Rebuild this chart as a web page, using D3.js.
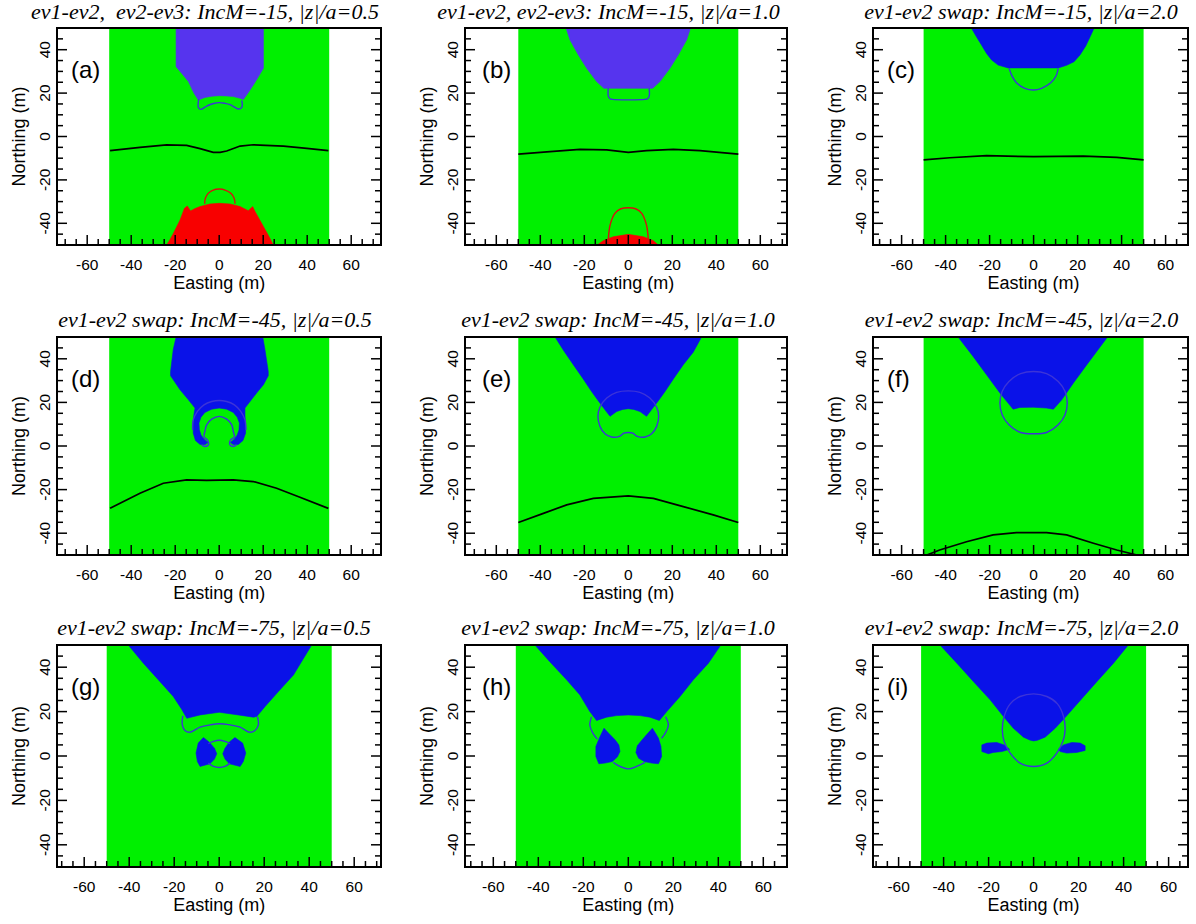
<!DOCTYPE html>
<html>
<head>
<meta charset="utf-8">
<script src="https://cdn.jsdelivr.net/npm/d3@7"></script>
<style>
  body { margin: 0; background: #fff; }
  svg { display: block; }
</style>
</head>
<body>
<svg id="fig" width="1196" height="924"></svg>
<script>
// ---------- text ----------
const titles = [
  "ev1-ev2,  ev2-ev3: IncM=-15, |z|/a=0.5",
  "ev1-ev2, ev2-ev3: IncM=-15, |z|/a=1.0",
  "ev1-ev2 swap: IncM=-15, |z|/a=2.0",
  "ev1-ev2 swap: IncM=-45, |z|/a=0.5",
  "ev1-ev2 swap: IncM=-45, |z|/a=1.0",
  "ev1-ev2 swap: IncM=-45, |z|/a=2.0",
  "ev1-ev2 swap: IncM=-75, |z|/a=0.5",
  "ev1-ev2 swap: IncM=-75, |z|/a=1.0",
  "ev1-ev2 swap: IncM=-75, |z|/a=2.0"
];
const panelLabels = ["(a)", "(b)", "(c)", "(d)", "(e)", "(f)", "(g)", "(h)", "(i)"];
const xTickLabels = [-60, -40, -20, 0, 20, 40, 60];
const yTickLabels = [-40, -20, 0, 20, 40];
const gridExtent = [-50, 50];   // survey grid, Easting and Northing (m)

// ---------- (a) IncM=-15, |z|/a=0.5 ----------
const aBlue = [[-19.6,50],[20.1,50],[20.1,31.4],[17.8,27.5],[15.5,23.7],[13.2,20.2],[11.0,17.1],[9.5,17.6],[6.4,18.4],[3.2,18.7],[0,18.8],[-3.2,18.6],[-6.5,18.0],[-9.5,16.8],[-11.5,20.0],[-14.0,25.3],[-16.8,28.8],[-19.6,32.2]];
const aBlueLine = [[-9.3,17.2],[-9.6,14.8],[-9.5,13.4],[-8.3,12.5],[-6.5,13.5],[-4.9,14.4],[-2.5,15.2],[0,15.6],[2.5,15.3],[4.9,14.7],[7.0,13.5],[8.7,12.7],[10.2,13.3],[10.5,15.0],[10.2,16.6]];
const aRed = [[-23.9,-50],[-22.2,-47.2],[-20.8,-44.6],[-17.8,-38.5],[-15.8,-33.1],[-14.5,-32.0],[-13.0,-34.3],[-11.0,-33.2],[-8.7,-32.3],[-4.2,-31.1],[0,-30.8],[4.9,-31.1],[9.5,-32.3],[13.2,-34.2],[15.2,-32.3],[16.3,-34.6],[20.1,-41.5],[22.3,-45.5],[24.6,-50]];
const aRedLine = [[-6.6,-31.0],[-6.3,-28.5],[-5.0,-26.2],[-3.0,-24.8],[0,-24.2],[3.0,-24.8],[5.3,-26.2],[6.8,-28.5],[7.2,-31.0]];
const aFront = [[-49.6,-6.5],[-36,-5.0],[-23.9,-3.9],[-14.8,-4.1],[-8.7,-5.6],[-2.7,-7.3],[0.4,-7.3],[3.4,-6.7],[9.5,-4.4],[15.5,-3.8],[29.2,-4.4],[39.8,-5.5],[49.6,-6.5]];

// ---------- (b) IncM=-15, |z|/a=1.0 ----------
const bBlue = [[-28.3,50],[28.3,50],[26.5,44.5],[22.7,37.6],[18.9,31.4],[14.4,25.3],[11.1,22.2],[-11.1,22.2],[-14.4,25.3],[-18.9,31.4],[-22.7,37.6],[-26.5,44.5]];
const bBlueLine = [[-9.1,22.2],[-9.1,18.6],[-8.3,17.4],[-7.2,17.1],[7.6,17.1],[8.8,17.4],[9.5,18.6],[9.5,22.2]];
const bRed = [[-14.1,-50],[-11.4,-48],[-6.8,-46.2],[0,-45.1],[6.8,-46.2],[11.4,-48],[13.6,-50]];
const bRedLine = [[-9.1,-50],[-8.9,-45],[-8.2,-40.5],[-6.1,-35.4],[-3.3,-33.3],[0,-32.8],[3.3,-33.3],[6.1,-35.4],[8.2,-40.5],[8.9,-45],[9.1,-50]];
const bFront = [[-50,-8.1],[-35.6,-7.0],[-22,-5.9],[-9.8,-6.2],[0,-7.3],[8.3,-6.5],[20.5,-5.9],[32.6,-6.5],[50,-8.1]];

// ---------- (c) IncM=-15, |z|/a=2.0 ----------
const cBlue = [[-28.3,50],[27.5,50],[25.7,46],[23.7,41.7],[21.1,37.6],[18.4,34.5],[15,32.8],[11.2,31.6],[-11.6,31.6],[-16.1,32.9],[-19.1,35.3],[-21.4,38.3],[-23.7,42.2],[-26,46]];
const cBlueLine = [[-11.1,31.4],[-10,28.3],[-7.8,24.8],[-4,22.2],[0,21.4],[3.6,22.2],[7.8,24.8],[10.2,27.9],[11.2,31.4]];
const cFront = [[-50,-10.8],[-38.1,-9.8],[-21.4,-8.8],[0,-9.3],[22.6,-9],[37.8,-9.6],[50,-10.8]];

// ---------- (d) IncM=-45, |z|/a=0.5 ----------
const dBlue = [[-19.6,50],[19.8,50],[20.8,44.2],[22.3,34.2],[22.3,32.2],[20.1,28.1],[17,24.3],[14,20.4],[11.7,17.4],[11.7,14.3],[11.9,10.5],[12.0,5.9],[10.8,2.5],[8.7,0.7],[6.3,0.7],[5.1,1.6],[6.9,3.1],[8.2,5.1],[9.0,7.4],[9.2,10.5],[8.2,13.2],[6.4,15.4],[3.4,16.9],[0,17.4],[-3.4,16.9],[-6.5,15.4],[-8.3,13.2],[-9.2,10.5],[-9.0,7.4],[-8.3,5.1],[-6.9,3.1],[-5.1,1.6],[-6.3,0.7],[-8.7,0.7],[-10.8,2.5],[-11.8,5.9],[-11.8,10.5],[-11.5,14.3],[-11.0,17.4],[-14,21.2],[-17.8,25.8],[-22.1,32.2],[-22.1,34.2],[-20.9,44.2]];
const dBlueLine = [[-8.0,0.5],[-6.5,-0.2],[-4.9,0.5],[-5.4,2.8],[-6.9,4.1],[-6.5,6.7],[-5.7,9.7],[-3.4,12.3],[0,13.6],[3.4,12.3],[5.7,9.7],[6.4,6.7],[6.9,4.1],[5.2,2.8],[4.9,0.5],[6.4,-0.2],[7.9,0.5]];
const dRing = [[-12.1,7.4],[-11.8,12.0],[-9.9,15.9],[-6.9,18.9],[-3.4,20.4],[0,20.9],[3.4,20.4],[6.9,18.9],[9.8,15.9],[11.7,12.0],[12.2,7.4]];
const dFront = [[-49.6,-28.6],[-36,-21.7],[-25.4,-17.1],[-14.8,-15.5],[-5.7,-15.8],[6.4,-15.5],[15.5,-16.3],[26.1,-19.4],[36.7,-23.5],[49.6,-28.6]];

// ---------- (e) IncM=-45, |z|/a=1.0 ----------
const eBlue = [[-33.3,50],[33.3,50],[29.5,43],[25,37.3],[20.8,31.2],[16.7,25],[13.5,20.5],[11.4,17.8],[8.3,13.6],[5.3,15.8],[2.5,16.8],[0,17.1],[-2.5,16.8],[-5.3,15.8],[-8.3,13.6],[-10.6,16.6],[-13.5,20.5],[-16.7,25],[-20.8,31.2],[-25,37.3],[-29.2,43.5]];
const eRing = [[0,25.3],[5.3,24.6],[9.8,22],[12.9,17.8],[13.8,13.6],[12.9,9],[10.6,5.6],[7.6,4.1],[4.1,4.4],[2,5.9],[0,6.2],[-2,5.9],[-4.1,4.4],[-7.6,4.1],[-10.6,5.6],[-12.9,9],[-13.8,13.6],[-12.9,17.8],[-9.8,22],[-5.3,24.6]];
const eFront = [[-50,-35.1],[-38.6,-30.9],[-28,-27],[-15.9,-24],[0,-22.9],[11.4,-24],[25,-27.8],[38.6,-31.6],[50,-35.1]];

// ---------- (f) IncM=-45, |z|/a=2.0 ----------
const fBlue = [[-34.3,50],[33.6,50],[24.2,37.3],[18.1,28.9],[12.8,21.2],[9,16.9],[5.9,17.4],[-0.2,17.8],[-6.2,17.7],[-9.3,16.9],[-11.6,19.7],[-15.3,24.3],[-21.4,32.7],[-27.5,41.1]];
const fRing = [[0,34.2],[5.9,33.2],[11.2,29.6],[14.3,25],[15.3,19.7],[14.3,14.3],[11.2,9.7],[5.9,6.2],[0,5.6],[-5.9,6.2],[-11.2,9.7],[-14.3,14.3],[-15.3,19.7],[-14.3,25],[-11.2,29.6],[-5.9,33.2]];
const fFront = [[-50,-50.6],[-42.7,-47.7],[-30.5,-43.9],[-18.4,-40.8],[-7.8,-39.7],[5.9,-39.7],[15,-40.8],[27.2,-44.6],[37.8,-47.7],[50,-50.8]];

// ---------- (g) IncM=-75, |z|/a=0.5 ----------
const gBlue = [[-40.4,50],[41.1,50],[33,36.5],[26.3,29],[20.4,22.3],[16.7,17.8],[15.2,17.5],[8.5,18.5],[0,19.7],[-8.5,18.5],[-14.4,17],[-16.7,21.1],[-20.4,26.8],[-26.3,33.5],[-33.7,41.8]];
const gBlueLine = [[-16.2,18.1],[-16.4,14],[-15.2,11.5],[-13,10.7],[-8.5,13],[-4.1,14],[0,14.5],[4.8,14],[9.3,13],[13.4,10.7],[15.9,11.5],[17.4,14],[17,17.8]];
const gWingL = [[-7,8.3],[-4.4,6.2],[-2.1,3.5],[-1.1,1],[-2.1,-1.4],[-4.1,-3.5],[-8.5,-4.7],[-9.7,-2.5],[-10.3,1.3],[-9.3,5.8]];
const gWingR = [[7,8.3],[4.4,6.2],[2.6,3.5],[1.6,1],[2.6,-1.4],[4.5,-3.5],[9.3,-4.7],[10.7,-2.5],[11.8,1.3],[10.4,5.8]];
const gRingTop = [[-4.8,5.6],[-2.5,6.6],[0,7.1],[2.6,6.6],[4.8,5.6]];
const gRingBottom = [[-4.8,-3.2],[-2.5,-4.7],[0,-5.2],[2.6,-4.7],[4.8,-3.2]];

// ---------- (h) IncM=-75, |z|/a=1.0 ----------
const hBlue = [[-41.5,50],[41.1,50],[35.6,41.8],[28.9,34.3],[23,26.8],[17.1,20],[13.8,16],[9.6,17.5],[5.2,18.2],[0,18.5],[-5.2,18.2],[-9.6,17.5],[-14.1,16],[-17.1,20],[-21.5,27.5],[-27.4,34.3],[-34.9,42.5]];
const hBlobL = [[-10.8,12.5],[-8.5,10],[-5.9,7.3],[-4.2,5],[-3.7,2],[-4.9,-0.5],[-7.1,-2.5],[-10.4,-3.2],[-13.1,-3.5],[-14.4,-0.2],[-14.4,4.3],[-12.9,8]];
const hBlobR = [[10.7,12.5],[8.5,10],[5.9,7],[4,4.6],[3.4,1.6],[4.6,-1],[7.1,-2.5],[10.4,-3.2],[13.4,-3.5],[14.8,-0.2],[14.5,4.3],[13.4,8],[11.9,10.6]];
const hLineL = [[-16.3,17.7],[-17.1,14],[-15.9,10.6],[-13.8,7.6]];
const hLineR = [[16.6,17.7],[17.8,14],[16.6,10.6],[14.8,8]];
const hLineBottom = [[-6.7,-2.9],[-3.7,-4.7],[0,-5.8],[3.7,-4.7],[7.4,-2.9]];

// ---------- (i) IncM=-75, |z|/a=2.0 ----------
const iBlue = [[-41.6,50],[42.1,50],[35.5,41.8],[28.1,33.5],[20.7,25],[14.7,18.1],[9.6,12.5],[5.1,8.5],[1.7,7.1],[0,6.8],[-1.7,7.2],[-4.5,8.5],[-9,12.5],[-13.4,17.8],[-19.3,25.3],[-26.7,33.5],[-34.1,41.8]];
const iWingL = [[-23,5],[-20.8,5.8],[-16.4,6.1],[-13.1,5],[-10.7,3],[-14.1,2],[-17.9,1.6],[-20.1,1],[-23,2]];
const iWingR = [[11,3],[13.3,5],[17,6.1],[20.7,5.8],[22.9,4.6],[22.9,2.5],[19.2,1.6],[14.7,1.3],[11.8,2]];
const iRing = [[0,28],[5.9,26.8],[10.6,23.5],[13.3,17.8],[14,11.8],[13,6.5],[10.3,1.3],[5.9,-3.2],[0,-4.7],[-6,-3.2],[-10.4,1.3],[-13.1,6.5],[-13.9,11.8],[-13.1,17.8],[-10.4,23.5],[-6,26.8]];

// ---------- styling ----------
const GREEN = "#00f000", RED = "#f80000";
const VIOLET = "#5634ee", BLUE = "#0a12e8";
const LINE_BLUE = "#3c34d8", LINE_RED = "#d81010";

// each panel: filled regions, then contour lines (open or closed)
const panels = [
  { fills: [[aRed, RED], [aBlue, VIOLET]], lines: [[aBlueLine, LINE_BLUE], [aRedLine, LINE_RED]], front: aFront },
  { fills: [[bRed, RED], [bBlue, VIOLET]], lines: [[bBlueLine, LINE_BLUE], [bRedLine, LINE_RED]], front: bFront },
  { fills: [[cBlue, BLUE]], lines: [[cBlueLine, LINE_BLUE]], front: cFront },
  { fills: [[dBlue, BLUE]], lines: [[dBlueLine, LINE_BLUE], [dRing, LINE_BLUE]], front: dFront },
  { fills: [[eBlue, BLUE]], rings: [eRing], lines: [], front: eFront },
  { fills: [[fBlue, BLUE]], rings: [fRing], lines: [], front: fFront },
  { fills: [[gBlue, BLUE], [gWingL, BLUE], [gWingR, BLUE]], lines: [[gBlueLine, LINE_BLUE], [gRingTop, LINE_BLUE], [gRingBottom, LINE_BLUE]] },
  { fills: [[hBlue, BLUE], [hBlobL, BLUE], [hBlobR, BLUE]], lines: [[hLineL, LINE_BLUE], [hLineR, LINE_BLUE], [hLineBottom, LINE_BLUE]] },
  { fills: [[iBlue, BLUE], [iWingL, BLUE], [iWingR, BLUE]], rings: [iRing], lines: [] }
];

// ---------- layout (pixels) ----------
const cols = [
  { left: 57,  right: 381,  x0: 219.2,  titleX: [205, 215, 214],   labelDx: 14 },
  { left: 465, right: 787,  x0: 628.3,  titleX: [608.5, 618, 618], labelDx: 17 },
  { left: 873, right: 1188, x0: 1033.6, titleX: [1021, 1021.5, 1021.5], labelDx: 14 }
];
const rows = [
  { top: 28,  bottom: 245, kx: 2.20, titleY: 18.5 },
  { top: 337, bottom: 555, kx: 2.20, titleY: 327 },
  { top: 645, bottom: 867, kx: 2.25, titleY: 634.5 }
];

const svg = d3.select("#fig");
const sans = "'Liberation Sans', Arial, sans-serif";
const serif = "'Liberation Serif', 'Times New Roman', serif";

panels.forEach((p, i) => {
  const c = cols[i % 3], r = rows[Math.floor(i / 3)];
  const x = d3.scaleLinear().domain(gridExtent).range([c.x0 + gridExtent[0] * r.kx, c.x0 + gridExtent[1] * r.kx]);
  const y = d3.scaleLinear().domain(gridExtent).range([r.bottom, r.top]);
  const g = svg.append("g");

  const clipId = "clip" + i;
  g.append("clipPath").attr("id", clipId)
    .append("rect").attr("x", c.left).attr("y", r.top)
    .attr("width", c.right - c.left).attr("height", r.bottom - r.top);

  const plot = g.append("g").attr("clip-path", `url(#${clipId})`);

  // survey area background
  plot.append("rect")
    .attr("x", x(gridExtent[0])).attr("y", y(gridExtent[1]))
    .attr("width", x(gridExtent[1]) - x(gridExtent[0]))
    .attr("height", y(gridExtent[0]) - y(gridExtent[1]))
    .attr("fill", GREEN);

  const closed = d3.line().x(d => x(d[0])).y(d => y(d[1])).curve(d3.curveLinearClosed);
  const smooth = d3.line().x(d => x(d[0])).y(d => y(d[1])).curve(d3.curveCatmullRom);
  const smoothClosed = d3.line().x(d => x(d[0])).y(d => y(d[1])).curve(d3.curveCatmullRomClosed);
  const poly = d3.line().x(d => x(d[0])).y(d => y(d[1]));

  p.fills.forEach(([pts, col]) => {
    plot.append("path").attr("d", closed(pts)).attr("fill", col)
      .attr("stroke", col).attr("stroke-width", 0.6);
  });
  (p.rings || []).forEach(pts => {
    plot.append("path").attr("d", smoothClosed(pts)).attr("fill", "none")
      .attr("stroke", LINE_BLUE).attr("stroke-width", 1.4);
  });
  p.lines.forEach(([pts, col]) => {
    plot.append("path").attr("d", smooth(pts)).attr("fill", "none")
      .attr("stroke", col).attr("stroke-width", 1.4);
  });
  if (p.front) {
    plot.append("path").attr("d", poly(p.front)).attr("fill", "none")
      .attr("stroke", "#000").attr("stroke-width", 1.7);
  }

  // ticks: minor every 5 m, major every 20 m, pointing inward
  const axis = g.append("g").attr("stroke", "#000").attr("stroke-width", 1.5);
  d3.range(-70, 71, 5).filter(v => x(v) > c.left + 1.5 && x(v) < c.right - 1.5).forEach(v => {
    const len = v % 20 === 0 ? 10 : 6;
    axis.append("line").attr("x1", x(v)).attr("x2", x(v))
      .attr("y1", r.bottom).attr("y2", r.bottom - len);
  });
  d3.range(-45, 50, 5).forEach(v => {
    const len = v % 20 === 0 ? 10 : 6;
    axis.append("line").attr("x1", c.left).attr("x2", c.left + len)
      .attr("y1", y(v)).attr("y2", y(v));
    axis.append("line").attr("x1", c.right).attr("x2", c.right - len)
      .attr("y1", y(v)).attr("y2", y(v));
  });

  g.append("rect").attr("x", c.left).attr("y", r.top)
    .attr("width", c.right - c.left).attr("height", r.bottom - r.top)
    .attr("fill", "none").attr("stroke", "#000").attr("stroke-width", 2);

  // tick labels
  xTickLabels.forEach(v => {
    g.append("text").attr("x", x(v)).attr("y", r.bottom + 25)
      .attr("text-anchor", "middle").attr("font-family", sans).attr("font-size", 15.5)
      .text(v);
  });
  yTickLabels.forEach(v => {
    g.append("text").attr("transform", `translate(${c.left - 7},${y(v)}) rotate(-90)`)
      .attr("text-anchor", "middle").attr("font-family", sans).attr("font-size", 15.5)
      .text(v);
  });

  // axis titles
  g.append("text").attr("x", x(0)).attr("y", r.bottom + 43.5)
    .attr("text-anchor", "middle").attr("font-family", sans).attr("font-size", 18)
    .text("Easting (m)");
  g.append("text").attr("transform", `translate(${c.left - 32},${(r.top + r.bottom) / 2}) rotate(-90)`)
    .attr("text-anchor", "middle").attr("font-family", sans).attr("font-size", 18)
    .text("Northing (m)");

  // panel title and tag
  g.append("text").attr("x", c.titleX[Math.floor(i / 3)]).attr("y", r.titleY)
    .attr("text-anchor", "middle").attr("font-family", serif).attr("font-style", "italic")
    .attr("font-size", 22).attr("xml:space", "preserve").style("white-space", "pre")
    .text(titles[i]);
  g.append("text").attr("x", c.left + c.labelDx).attr("y", r.top + 49.5)
    .attr("font-family", sans).attr("font-size", 24)
    .text(panelLabels[i]);
});
</script>
</body>
</html>
